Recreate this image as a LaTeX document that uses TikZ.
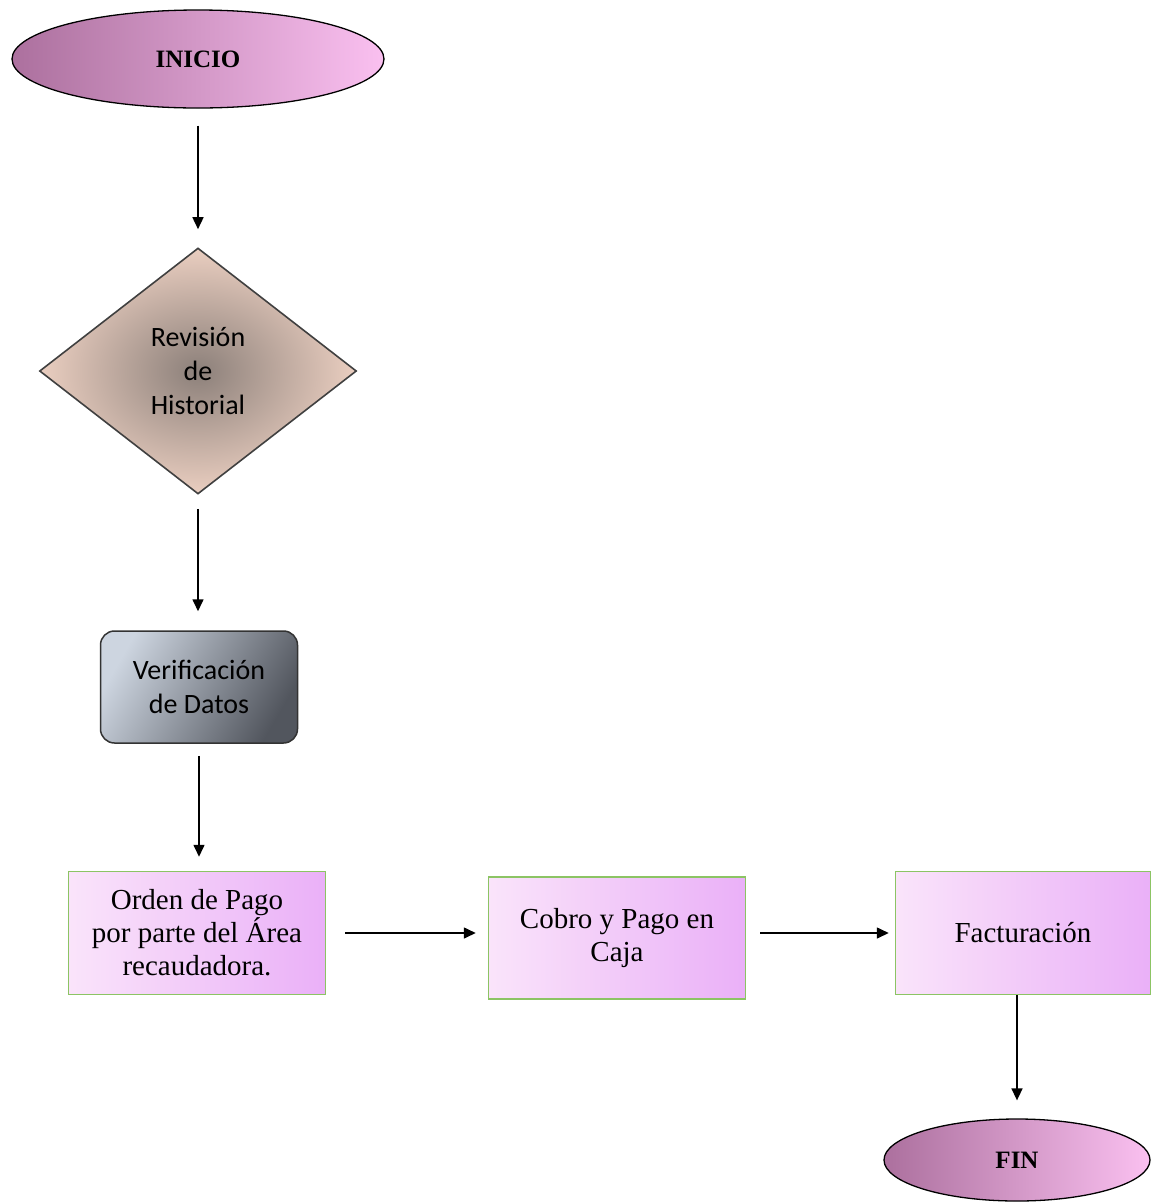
\documentclass[tikz,border=0pt]{standalone}
\usepackage{fontspec}
\setmainfont{Liberation Serif}
\newfontfamily\calib{Carlito}
\usetikzlibrary{shapes.geometric,arrows.meta}
\definecolor{ellL}{RGB}{172,112,158}
\definecolor{ellR}{RGB}{250,192,240}
\definecolor{diaIn}{RGB}{140,128,122}
\definecolor{diaOut}{RGB}{234,206,192}
\definecolor{grL}{RGB}{205,213,224}
\definecolor{grD}{RGB}{82,86,94}
\definecolor{bxL}{RGB}{250,228,250}
\definecolor{bxR}{RGB}{234,176,248}
\definecolor{bxG}{RGB}{140,196,100}
\tikzset{
  term/.style={ellipse, draw=black, line width=1.3pt, left color=ellL, right color=ellR,
    font=\bfseries\fontsize{25}{28}\selectfont, inner sep=0pt},
  dec/.style={diamond, draw=black!75, line width=1.6pt, inner color=diaIn, outer color=diaOut,
    font=\calib\fontsize{28}{34}\selectfont, align=center, inner sep=0pt, aspect=1.29},
  proc/.style={rectangle, rounded corners=14pt, draw=black!80, line width=1.5pt,
    left color=grL, right color=grD, shading angle=60,
    font=\calib\fontsize{28}{34}\selectfont, align=center, inner sep=0pt},
  act/.style={rectangle, draw=bxG, line width=1.5pt, left color=bxL, right color=bxR,
    font=\fontsize{29}{33}\selectfont, align=center, inner sep=0pt},
  arr/.style={line width=1.6pt, -{Triangle[length=12pt,width=11pt]}}
}
\begin{document}
\begin{tikzpicture}[x=1pt,y=-1pt]
\useasboundingbox (0,0) rectangle (1152,1203);
\fill[white] (0,0) rectangle (1152,1203);
\node[term, minimum width=372pt, minimum height=98pt] (inicio) at (198,59) {INICIO};
\node[dec, minimum width=317pt, minimum height=246pt] (rev) at (198,371) {Revisión\\de\\Historial};
\node[proc, minimum width=197pt, minimum height=112pt] (ver) at (199,687) {Verificación\\de Datos};
\node[act, minimum width=257pt, minimum height=123pt] (orden) at (197,933) {Orden de Pago\\por parte del Área\\recaudadora.};
\node[act, minimum width=257pt, minimum height=122pt] (cobro) at (617,938) {Cobro y Pago en\\Caja};
\node[act, minimum width=255pt, minimum height=123pt] (fact) at (1023,933) {Facturación};
\node[term, minimum width=266pt, minimum height=82pt] (fin) at (1017,1160) {FIN};
\draw[arr, shorten <=17pt, shorten >=18pt] (inicio) -- (rev);
\draw[arr, shorten <=14pt, shorten >=19pt] (rev.south) -- (rev.south |- ver.north);
\draw[arr, shorten <=12pt, shorten >=14pt] (ver.south) -- (ver.south |- orden.north);
\draw[arr, shorten <=19pt, shorten >=12pt] (orden.east) -- (orden.east -| cobro.west);
\draw[arr, shorten <=14pt, shorten >=6pt] (cobro.east |- fact.west) -- (fact.west);
\draw[arr, shorten >=18pt] (fact.south -| fin.north) -- (fin.north);
\end{tikzpicture}
\end{document}
